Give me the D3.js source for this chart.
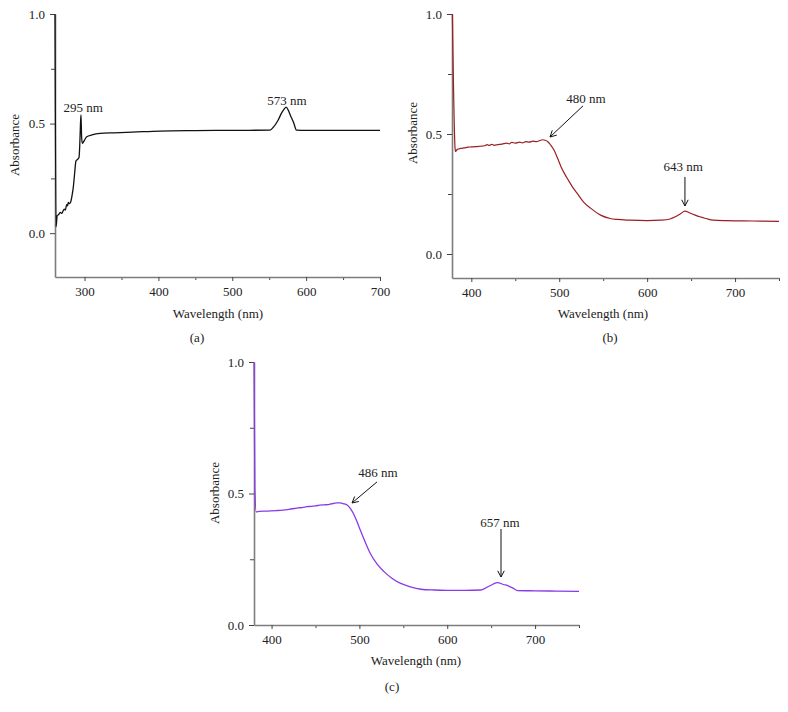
<!DOCTYPE html>
<html>
<head>
<meta charset="utf-8">
<script src="https://cdn.jsdelivr.net/npm/d3@7"></script>
<style>
  html, body { margin: 0; padding: 0; background: #ffffff; }
  svg { display: block; }
  text { font-family: "Liberation Serif", "Times New Roman", serif; fill: #222; }
</style>
</head>
<body>
<svg id="chart" width="788" height="712"></svg>
<script>
// ---------------- DATA ----------------
// Panel (a)
const aWave = [260, 261.4, 263, 265, 267, 269, 270.8, 272.5, 274, 275.8, 277, 278, 279.5, 281, 283, 284.8, 286.5, 288.4, 290, 291.5, 292.5, 293.5, 294.5, 295.2, 296, 297, 300, 303, 310, 321, 340, 365, 402, 450, 500, 551, 556, 562, 567, 570, 573, 576, 579, 583, 587, 600, 650, 700];
const aAbs  = [1.0, 0.03, 0.08, 0.085, 0.095, 0.09, 0.10, 0.11, 0.105, 0.13, 0.125, 0.14, 0.135, 0.14, 0.17, 0.21, 0.27, 0.33, 0.335, 0.34, 0.345, 0.40, 0.50, 0.54, 0.44, 0.41, 0.425, 0.44, 0.448, 0.455, 0.458, 0.461, 0.466, 0.468, 0.469, 0.47, 0.485, 0.515, 0.55, 0.565, 0.575, 0.56, 0.535, 0.505, 0.47, 0.469, 0.469, 0.469];

// Panel (b)
const bWave = [378.4, 381.5, 382, 384, 388, 392, 396, 400, 405, 410, 415, 418, 420, 423, 426, 430, 435, 440, 443, 446, 450, 455, 458, 462, 466, 470, 474, 478, 481, 484, 487, 490, 494, 498, 502, 506, 510, 515, 520, 528, 536, 547, 558, 566, 580, 600, 615, 626, 632, 638, 643, 648, 654, 660, 667, 675, 690, 710, 730, 750];
const bAbs  = [1.0, 0.44, 0.427, 0.436, 0.44, 0.442, 0.445, 0.446, 0.447, 0.449, 0.451, 0.456, 0.452, 0.457, 0.453, 0.456, 0.458, 0.462, 0.459, 0.465, 0.462, 0.466, 0.463, 0.468, 0.466, 0.47, 0.468, 0.473, 0.476, 0.474, 0.468, 0.455, 0.433, 0.40, 0.364, 0.335, 0.31, 0.28, 0.255, 0.215, 0.19, 0.162, 0.148, 0.144, 0.141, 0.139, 0.141, 0.146, 0.155, 0.168, 0.179, 0.172, 0.163, 0.155, 0.148, 0.141, 0.139, 0.138, 0.137, 0.136];

// Panel (c)
const cWave = [380, 381, 382.5, 386, 395, 405, 413, 420, 426, 430, 436, 440, 445, 450, 455, 460, 465, 470, 474, 478, 482, 486, 490, 493, 497, 501, 506, 512, 520, 528, 537, 547, 558, 570, 585, 600, 620, 638, 645, 652, 657, 664, 670, 675, 680, 700, 725, 750];
const cAbs  = [1.0, 0.52, 0.43, 0.432, 0.433, 0.435, 0.437, 0.44, 0.443, 0.445, 0.447, 0.45, 0.451, 0.453, 0.456, 0.457, 0.458, 0.462, 0.464, 0.464, 0.461, 0.456, 0.442, 0.425, 0.395, 0.361, 0.32, 0.275, 0.232, 0.203, 0.178, 0.158, 0.145, 0.136, 0.133, 0.132, 0.132, 0.133, 0.143, 0.155, 0.161, 0.154, 0.148, 0.14, 0.131, 0.13, 0.129, 0.128];

// Tick values
const yMajorTicks = [0.0, 0.5, 1.0];
const yMinorTicks = [0.25, 0.75];
const aXMajorTicks = [300, 400, 500, 600, 700];
const aXMinorTicks = [350, 450, 550, 650];
const bcXMajorTicks = [400, 500, 600, 700];
const bcXMinorTicks = [450, 550, 650, 750];

// Annotations: label, text anchor (wavelength, absorbance), optional arrow from -> to
const aNotes = [
  { label: "295 nm", tw: 298, ta: 0.554 },
  { label: "573 nm", tw: 574, ta: 0.585 }
];
const bNotes = [
  { label: "480 nm", tw: 530.5, ta: 0.631, fw: 527, fa: 0.617, ew: 489.5, ea: 0.4875 },
  { label: "643 nm", tw: 641, ta: 0.344, fw: 643, fa: 0.321, ew: 643, ea: 0.200 }
];
const cNotes = [
  { label: "486 nm", tw: 521, ta: 0.561, fw: 520, fa: 0.544, ew: 491.6, ea: 0.464 },
  { label: "657 nm", tw: 660, ta: 0.3745, fw: 661.2, fa: 0.365, ew: 661.2, ea: 0.1825 }
];

const captions = ["(a)", "(b)", "(c)"];
const xTitle = "Wavelength (nm)";
const yTitle = "Absorbance";

// ---------------- LAYOUT ----------------
const svg = d3.select("#chart");

const panels = [
  { wave: aWave, abs: aAbs, notes: aNotes, color: "#111111", width: 1.3,
    xDomain: [260, 700], xRange: [55, 380], yDomain: [-0.2, 1.0], yRange: [277, 14],
    xMajor: aXMajorTicks, xMinor: aXMinorTicks,
    yTitlePos: [14, 145], xTitlePos: [218, 318], capPos: [197, 342], caption: captions[0] },
  { wave: bWave, abs: bAbs, notes: bNotes, color: "#9b1f24", width: 1.2,
    xDomain: [378, 750], xRange: [452, 779], yDomain: [-0.1, 1.0], yRange: [278, 14],
    xMajor: bcXMajorTicks, xMinor: bcXMinorTicks,
    yTitlePos: [412, 133], xTitlePos: [603, 318], capPos: [610, 342], caption: captions[1] },
  { wave: cWave, abs: cAbs, notes: cNotes, color: "#8a3ae6", width: 1.3,
    xDomain: [380, 750], xRange: [254, 579], yDomain: [0.0, 1.0], yRange: [625, 362],
    xMajor: bcXMajorTicks, xMinor: bcXMinorTicks,
    yTitlePos: [214, 493], xTitlePos: [416, 665], capPos: [392, 691], caption: captions[2] }
];

const axisColor = "#7d7d7d";

function styleAxis(g) {
  g.select(".domain").attr("stroke", axisColor).attr("stroke-width", 1.6);
  g.selectAll(".tick line").attr("stroke", "#444").attr("stroke-width", 1);
  g.selectAll(".tick text").attr("font-size", 13).attr("fill", "#222")
    .style("font-family", '"Liberation Serif", "Times New Roman", serif');
}

panels.forEach(p => {
  const x = d3.scaleLinear().domain(p.xDomain).range(p.xRange);
  const y = d3.scaleLinear().domain(p.yDomain).range(p.yRange);
  const g = svg.append("g");

  // minor ticks (no labels)
  g.append("g")
    .attr("transform", `translate(0,${p.yRange[0]})`)
    .call(d3.axisBottom(x).tickValues(p.xMinor).tickSize(3).tickSizeOuter(0).tickFormat(""))
    .call(ax => { ax.select(".domain").remove(); ax.selectAll(".tick line").attr("stroke", "#444"); });
  g.append("g")
    .attr("transform", `translate(${p.xRange[0]},0)`)
    .call(d3.axisLeft(y).tickValues(yMinorTicks).tickSize(4).tickSizeOuter(0).tickFormat(""))
    .call(ax => { ax.select(".domain").remove(); ax.selectAll(".tick line").attr("stroke", "#444"); });

  // major axes
  g.append("g")
    .attr("transform", `translate(0,${p.yRange[0]})`)
    .call(d3.axisBottom(x).tickValues(p.xMajor).tickSize(4).tickSizeOuter(0).tickPadding(6).tickFormat(d3.format("d")))
    .call(styleAxis);
  g.append("g")
    .attr("transform", `translate(${p.xRange[0]},0)`)
    .call(d3.axisLeft(y).tickValues(yMajorTicks).tickSize(5).tickSizeOuter(0).tickPadding(5).tickFormat(d3.format(".1f")))
    .call(styleAxis);

  // spectrum
  const pts = p.wave.map((w, i) => [w, p.abs[i]]);
  const line = d3.line().x(d => x(d[0])).y(d => y(d[1])).curve(d3.curveMonotoneX);
  g.append("path").datum(pts)
    .attr("d", line)
    .attr("fill", "none")
    .attr("stroke", p.color)
    .attr("stroke-width", p.width)
    .attr("stroke-linejoin", "round");

  // annotations
  p.notes.forEach(n => {
    g.append("text")
      .attr("x", x(n.tw)).attr("y", y(n.ta))
      .attr("text-anchor", "middle")
      .attr("font-size", 13)
      .text(n.label);
    if (n.fw !== undefined) {
      const x1 = x(n.fw), y1 = y(n.fa), x2 = x(n.ew), y2 = y(n.ea);
      g.append("line")
        .attr("x1", x1).attr("y1", y1).attr("x2", x2).attr("y2", y2)
        .attr("stroke", "#111").attr("stroke-width", 1);
      const ang = Math.atan2(y2 - y1, x2 - x1);
      const hl = 7, ha = Math.PI / 6.5;
      const hx1 = x2 - hl * Math.cos(ang - ha), hy1 = y2 - hl * Math.sin(ang - ha);
      const hx2 = x2 - hl * Math.cos(ang + ha), hy2 = y2 - hl * Math.sin(ang + ha);
      g.append("path")
        .attr("d", `M${hx1},${hy1}L${x2},${y2}L${hx2},${hy2}`)
        .attr("fill", "none").attr("stroke", "#111").attr("stroke-width", 1);
    }
  });

  // titles
  g.append("text")
    .attr("transform", `translate(${p.yTitlePos[0]},${p.yTitlePos[1]}) rotate(-90)`)
    .attr("text-anchor", "middle").attr("dominant-baseline", "central")
    .attr("font-size", 13).text(yTitle);
  g.append("text")
    .attr("x", p.xTitlePos[0]).attr("y", p.xTitlePos[1])
    .attr("text-anchor", "middle").attr("font-size", 13).text(xTitle);
  g.append("text")
    .attr("x", p.capPos[0]).attr("y", p.capPos[1])
    .attr("text-anchor", "middle").attr("font-size", 13).text(p.caption);
});
</script>
</body>
</html>
